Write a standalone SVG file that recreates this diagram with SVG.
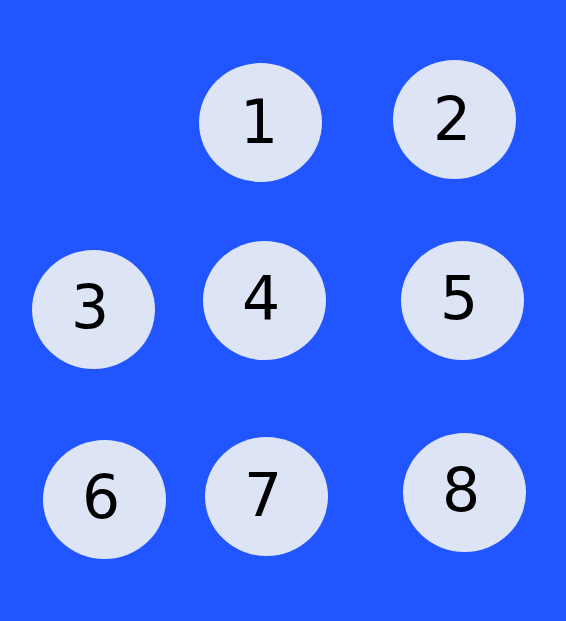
<svg xmlns="http://www.w3.org/2000/svg" width="566" height="621" viewBox="0 0 566 621">
<style>
.n ellipse{fill:#dde4f6;stroke:none}
.n text{font-family:"DejaVu Sans",sans-serif;font-size:60px;fill:#000;text-anchor:middle}
</style>
<rect width="566" height="621" fill="#2155ff"/>
<g id="connectors"></g>
<g id="n1" class="n"><ellipse cx="260.5" cy="122.5" rx="61.5" ry="59.5"/><text x="259" y="143">1</text></g>
<g id="n2" class="n"><ellipse cx="454.5" cy="119.5" rx="61.5" ry="59.5"/><text x="452" y="140">2</text></g>
<g id="n3" class="n"><ellipse cx="93.5" cy="309.5" rx="61.5" ry="59.5"/><text x="90" y="328">3</text></g>
<g id="n4" class="n"><ellipse cx="264.5" cy="300.5" rx="61.5" ry="59.5"/><text x="261" y="319">4</text></g>
<g id="n5" class="n"><ellipse cx="462.5" cy="300.5" rx="61.5" ry="59.5"/><text x="459" y="319">5</text></g>
<g id="n6" class="n"><ellipse cx="104.5" cy="499.5" rx="61.5" ry="59.5"/><text x="101" y="518">6</text></g>
<g id="n7" class="n"><ellipse cx="266.5" cy="496.5" rx="61.5" ry="59.5"/><text x="263" y="516">7</text></g>
<g id="n8" class="n"><ellipse cx="464.5" cy="492.5" rx="61.5" ry="59.5"/><text x="461" y="511">8</text></g>
</svg>
